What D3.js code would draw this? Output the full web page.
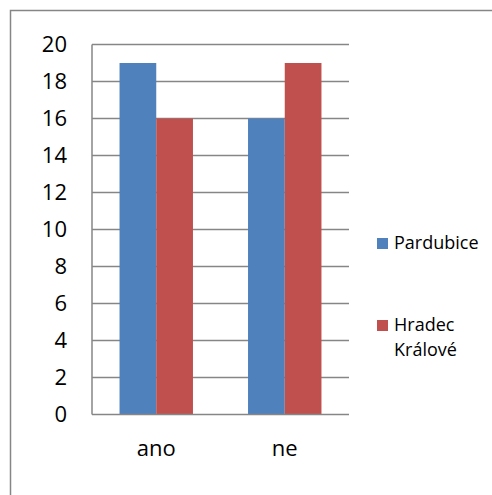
<!DOCTYPE html>
<html>
<head>
<meta charset="utf-8">
<script src="https://cdn.jsdelivr.net/npm/d3@7"></script>
<style>
  html, body { margin: 0; padding: 0; background: #fff; }
  svg text { font-family: "Open Sans", sans-serif; fill: #000; }
</style>
</head>
<body>
<div id="chart"></div>
<script>
// Data
const categories = ["ano", "ne"];
const seriesNames = ["Pardubice", "Hradec Králové"];
const pardubice = [19, 16];
const hradec = [16, 19];
const yTicks = [0, 2, 4, 6, 8, 10, 12, 14, 16, 18, 20];

const COLORS = ["#4f81bd", "#c0504d"];
const W = 492, H = 495;
const plot = { left: 92, right: 349, top: 44.5, bottom: 414.5 };

const svg = d3.select("#chart").append("svg")
  .attr("width", W).attr("height", H);

// outer chart frame (runs off the right and bottom)
svg.append("path")
  .attr("d", `M10.5,${H + 5} V10.5 H${W + 5}`)
  .attr("fill", "none").attr("stroke", "#868686").attr("stroke-width", 1.5);

const x = d3.scaleBand().domain(categories).range([plot.left, plot.right]);
const x1 = d3.scaleBand().domain(seriesNames)
  .range([0, x.bandwidth()]).paddingInner(0).paddingOuter(0.75);
const y = d3.scaleLinear().domain([0, 20]).range([plot.bottom, plot.top]);

// gridlines
svg.append("g").selectAll("line").data(yTicks.filter(t => t > 0)).join("line")
  .attr("x1", plot.left).attr("x2", plot.right)
  .attr("y1", d => y(d)).attr("y2", d => y(d))
  .attr("stroke", "#868686").attr("stroke-width", 1.5);

// bars
const rows = categories.map((c, i) => ({ cat: c, vals: [pardubice[i], hradec[i]] }));
svg.append("g").selectAll("g").data(rows).join("g")
  .attr("transform", d => `translate(${x(d.cat)},0)`)
  .selectAll("rect").data(d => d.vals.map((v, j) => ({ v, j })))
  .join("rect")
  .attr("x", d => x1(seriesNames[d.j]))
  .attr("width", x1.bandwidth())
  .attr("y", d => y(d.v))
  .attr("height", d => y(0) - y(d.v))
  .attr("fill", d => COLORS[d.j]);

// axes lines
svg.append("line")
  .attr("x1", plot.left).attr("x2", plot.left)
  .attr("y1", plot.top).attr("y2", plot.bottom)
  .attr("stroke", "#868686").attr("stroke-width", 1.5);
svg.append("line")
  .attr("x1", plot.left).attr("x2", plot.right)
  .attr("y1", plot.bottom).attr("y2", plot.bottom)
  .attr("stroke", "#868686").attr("stroke-width", 1.5);

// y tick labels
svg.append("g").selectAll("text").data(yTicks).join("text")
  .attr("x", 67).attr("y", d => y(d))
  .attr("dy", "0.35em")
  .attr("text-anchor", "end")
  .attr("font-size", 22)
  .text(d => d);

// x labels
svg.append("g").selectAll("text").data(categories).join("text")
  .attr("x", d => x(d) + x.bandwidth() / 2)
  .attr("y", 456)
  .attr("text-anchor", "middle")
  .attr("font-size", 22)
  .text(d => d);

// legend
const legend = [
  { name: "Pardubice", lines: ["Pardubice"], y: 249 },
  { name: "Hradec Králové", lines: ["Hradec", "Králové"], y: 331 }
];
legend.forEach((d, i) => {
  svg.append("rect")
    .attr("x", 377).attr("y", d.y - 11)
    .attr("width", 11).attr("height", 11)
    .attr("fill", COLORS[i]);
  const t = svg.append("text")
    .attr("x", 394).attr("y", d.y)
    .attr("font-size", 18);
  d.lines.forEach((l, k) => {
    t.append("tspan").attr("x", 394).attr("dy", k === 0 ? 0 : 25).text(l);
  });
});
</script>
</body>
</html>
